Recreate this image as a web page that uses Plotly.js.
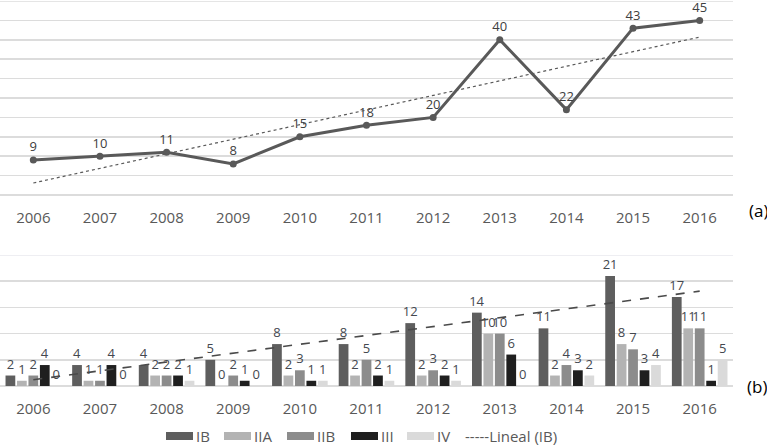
<!DOCTYPE html>
<html>
<head>
<meta charset="utf-8">
<script src="https://cdn.plot.ly/plotly-3.0.1.min.js"></script>
<style>html,body{margin:0;padding:0;background:#fff}#chart{width:767px;height:447px}</style>
</head>
<body>
<div id="chart"></div>
<script>
// ---- data ----
const years = ['2006','2007','2008','2009','2010','2011','2012','2013','2014','2015','2016'];
const totalIB = [9, 10, 11, 8, 15, 18, 20, 40, 22, 43, 45];
const trendA = [3.1, 40.7];           // linear trend of (a) (2006, 2016)
const stageIB  = [2, 4, 4, 5, 8, 8, 12, 14, 11, 21, 17];
const stageIIA = [1, 1, 2, 0, 2, 2, 2, 10, 2, 8, 11];
const stageIIB = [2, 1, 2, 2, 3, 5, 3, 10, 4, 7, 11];
const stageIII = [4, 4, 2, 1, 1, 2, 2, 6, 3, 3, 1];
const stageIV  = [0, 0, 1, 0, 1, 1, 1, 0, 2, 4, 5];
const trendB = [1.2, 18.1];           // linear trend of IB
const seriesNames = ['IB', 'IIA', 'IIB', 'III', 'IV'];
const trendName = 'Lineal (IB)';
const trendYears = [years[0], years[years.length - 1]];
const yMaxA = 50, yMaxB = 25;

// ---- styles ----
const FONT = 'Open Sans, Arial, sans-serif';
const barColors = ['#5e5e5e', '#b3b3b3', '#8c8c8c', '#1f1f1f', '#dadada'];
const labelColor = '#44484f';
const tickColor = '#595959';
const gridColor = '#dcdcdc';

const W = 767, H = 447, ML = 0, MR = 34, MT = 1, MB = 61;
const PW = W - ML - MR, PH = H - MT - MB;
const px2x = px => (px - ML) / PW;
const px2y = py => (H - MB - py) / PH;

const stages = [stageIB, stageIIA, stageIIB, stageIII, stageIV];

const traces = [];
// (a) line
traces.push({
  x: years, y: totalIB, xaxis: 'x', yaxis: 'y', type: 'scatter', mode: 'lines+markers+text',
  line: {color: '#595959', width: 3}, marker: {color: '#595959', size: 7},
  text: totalIB.map(String), textposition: 'top center',
  textfont: {family: FONT, size: 13, color: '#404040'}, cliponaxis: false, showlegend: false, hoverinfo: 'x+y'
});
traces.push({
  x: trendYears, y: trendA, xaxis: 'x', yaxis: 'y', type: 'scatter', mode: 'lines',
  line: {color: '#595959', width: 1.2, dash: 'dot'}, showlegend: false, hoverinfo: 'skip'
});
// (b) bars
stages.forEach((vals, i) => {
  traces.push({
    x: years, y: vals, xaxis: 'x2', yaxis: 'y2', type: 'bar', name: seriesNames[i],
    marker: {color: barColors[i]}, text: vals.map(String), textposition: 'outside',
    textfont: {family: FONT, size: 13, color: labelColor}, constraintext: 'none',
    cliponaxis: false, showlegend: false
  });
});
traces.push({
  x: trendYears, y: trendB, xaxis: 'x2', yaxis: 'y2', type: 'scatter', mode: 'lines', name: trendName,
  line: {color: '#4a4a4a', width: 1.6, dash: 'dash'}, showlegend: false, hoverinfo: 'skip'
});

// custom legend (wide flat swatches like the original)
const shapes = [];
const annotations = [];
const legendY = 436;
const swatchX = [166, 224, 287, 351, 407];
seriesNames.forEach((n, i) => {
  shapes.push({type: 'rect', xref: 'paper', yref: 'paper',
    x0: px2x(swatchX[i]), x1: px2x(swatchX[i] + 27), y0: px2y(legendY - 4), y1: px2y(legendY + 4),
    fillcolor: barColors[i], line: {width: 0}});
  annotations.push({xref: 'paper', yref: 'paper', x: px2x(swatchX[i] + 29), y: px2y(legendY),
    xanchor: 'left', yanchor: 'middle', showarrow: false, text: n, borderpad: 0,
    font: {family: FONT, size: 15, color: tickColor}});
});
annotations.push({xref: 'paper', yref: 'paper', x: px2x(464), y: px2y(legendY),
  xanchor: 'left', yanchor: 'middle', showarrow: false, text: '-----' + trendName, borderpad: 0,
  font: {family: FONT, size: 15, color: tickColor}});
annotations.push({xref: 'paper', yref: 'paper', x: px2x(758), y: px2y(210), xanchor: 'center', yanchor: 'middle',
  showarrow: false, text: '(a)', font: {family: FONT, size: 17, color: '#000'}});
annotations.push({xref: 'paper', yref: 'paper', x: px2x(757), y: px2y(387), xanchor: 'center', yanchor: 'middle',
  showarrow: false, text: '(b)', font: {family: FONT, size: 17, color: '#000'}});
// top gridlines at the range maxima (Plotly skips gridlines on the plot edge)
shapes.push({type: 'line', xref: 'paper', yref: 'y', x0: 0, x1: 1, y0: yMaxA, y1: yMaxA,
  line: {color: gridColor, width: 1.5}, layer: 'below'});
shapes.push({type: 'line', xref: 'paper', yref: 'y2', x0: 0, x1: 1, y0: yMaxB, y1: yMaxB,
  line: {color: '#e8e8ee', width: 1.5}, layer: 'below'});

const xcommon = {type: 'category', range: [-0.5, 10.5], showgrid: false, zeroline: false, showline: false,
  ticks: 'outside', ticklen: 9, tickcolor: 'rgba(0,0,0,0)',
  tickfont: {family: FONT, size: 15, color: tickColor}, fixedrange: true};
const ycommon = {showticklabels: false, ticks: '', showline: false, gridcolor: gridColor, gridwidth: 1.5,
  zeroline: true, zerolinecolor: gridColor, zerolinewidth: 1.5, fixedrange: true};

const layout = {
  width: W, height: H, margin: {l: ML, r: MR, t: MT, b: MB},
  paper_bgcolor: '#fff', plot_bgcolor: '#fff', showlegend: false,
  font: {family: FONT},
  barmode: 'group', bargap: 0.14, bargroupgap: 0.15,
  xaxis: Object.assign({}, xcommon, {anchor: 'y', domain: [0, 1]}),
  yaxis: Object.assign({}, ycommon, {domain: [px2y(195), 1], range: [0, yMaxA], dtick: 5}),
  xaxis2: Object.assign({}, xcommon, {anchor: 'y2', domain: [0, 1]}),
  yaxis2: Object.assign({}, ycommon, {domain: [0, px2y(255)], range: [0, yMaxB], dtick: 5}),
  shapes: shapes, annotations: annotations
};
Plotly.newPlot('chart', traces, layout, {displayModeBar: false, staticPlot: true});
</script>
</body>
</html>
